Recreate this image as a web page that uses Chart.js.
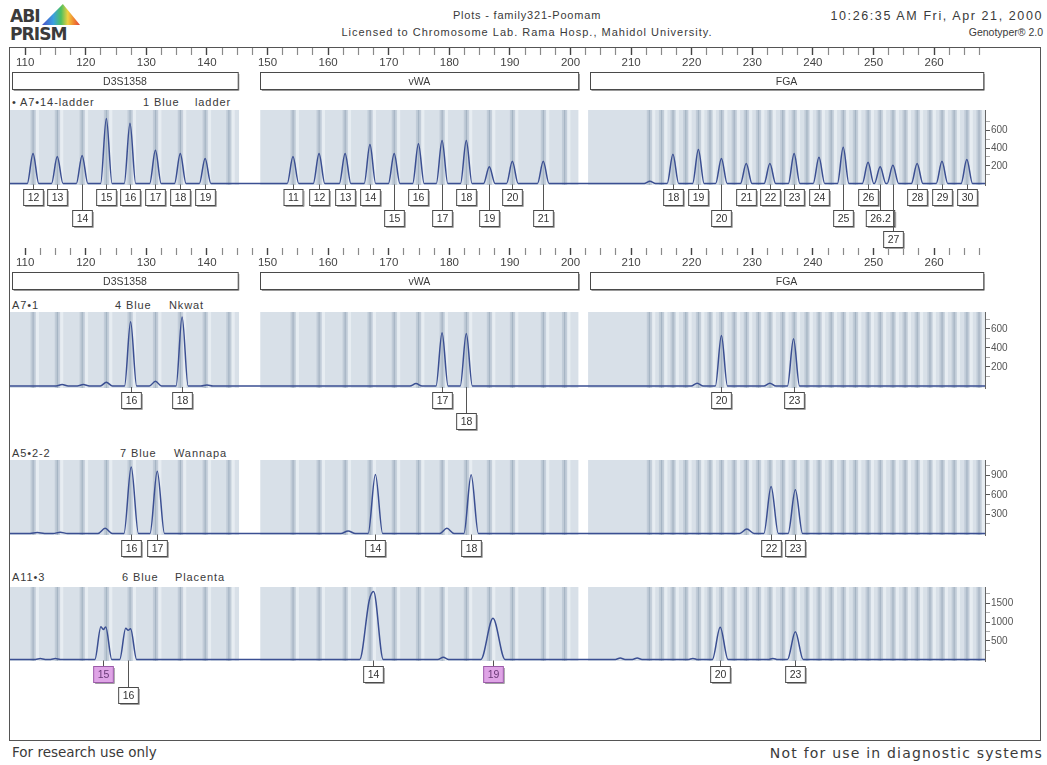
<!DOCTYPE html>
<html><head><meta charset="utf-8">
<script src="https://cdn.jsdelivr.net/npm/chart.js@4.4.0/dist/chart.umd.min.js"></script>
<style>
body{margin:0;background:#fff;width:1047px;height:765px;position:relative;overflow:hidden;font-family:"Liberation Sans",Arial,sans-serif;color:#3a3a3a}
.t{position:absolute;white-space:nowrap;line-height:1}
.pl{font-size:11px;letter-spacing:0.9px}
canvas{position:absolute}
#frame{position:absolute;left:9px;top:47px;width:1032px;height:694px;border:1.5px solid #555;box-sizing:border-box}
#logo1,#logo2{position:absolute;left:10px;font-family:"DejaVu Sans",sans-serif;font-weight:bold;font-size:18px;color:#3b3b3b;letter-spacing:-1px;transform-origin:0 0;transform:scaleX(0.95)}
#tri{position:absolute;left:42px;top:4px;width:38px;height:21px;clip-path:polygon(55% 0,100% 100%,0 100%);background:linear-gradient(90deg,#4a4fc8 0%,#3aa0e0 30%,#4cc060 50%,#f0d040 68%,#f08030 85%,#e04040 100%)}
</style></head><body>
<div id="frame"></div>
<div id="tri"></div>
<div id="logo1" style="top:5px">ABI</div>
<div id="logo2" style="top:23px">PRISM</div>
<div class="t" style="left:227px;width:600px;text-align:center;top:10px;font-size:11px;letter-spacing:0.8px">Plots - family321-Poomam</div>
<div class="t" style="left:127px;width:800px;text-align:center;top:27px;font-size:11px;letter-spacing:1px">Licensed to Chromosome Lab. Rama Hosp., Mahidol University.</div>
<div class="t" style="right:4px;text-align:right;top:10px;font-size:12.5px;letter-spacing:1.6px">10:26:35 AM Fri, Apr 21, 2000</div>
<div class="t" style="right:4px;text-align:right;top:27px;font-size:10.5px">Genotyper® 2.0</div>

<div class="t pl" style="left:12px;top:97px">• A7•14-ladder</div>
<div class="t pl" style="left:143px;top:97px">1 Blue</div>
<div class="t pl" style="left:195px;top:97px">ladder</div>

<div class="t pl" style="left:12px;top:300px">A7•1</div>
<div class="t pl" style="left:115px;top:300px">4 Blue</div>
<div class="t pl" style="left:169px;top:300px">Nkwat</div>

<div class="t pl" style="left:12px;top:448px">A5•2-2</div>
<div class="t pl" style="left:120px;top:448px">7 Blue</div>
<div class="t pl" style="left:174px;top:448px">Wannapa</div>

<div class="t pl" style="left:12px;top:572px">A11•3</div>
<div class="t pl" style="left:122px;top:572px">6 Blue</div>
<div class="t pl" style="left:175px;top:572px">Placenta</div>

<div class="t" style="left:12px;top:746px;font-size:13.5px;font-family:'DejaVu Sans',sans-serif">For research use only</div>
<div class="t" style="right:4px;top:746px;font-size:14px;letter-spacing:1.2px;font-family:'DejaVu Sans',sans-serif">Not for use in diagnostic systems</div>

<canvas id="r1" width="1030" height="60" style="left:10px;top:40px"></canvas>
<canvas id="r2" width="1030" height="60" style="left:10px;top:240px"></canvas>
<canvas id="p1"></canvas>
<canvas id="p2"></canvas>
<canvas id="p3"></canvas>
<canvas id="p4"></canvas>

<script>
// ================= DATA =================
const rulerMajor = [110,120,130,140,150,160,170,180,190,200,210,220,230,240,250,260];
const rulerMinorStep = 2.5;
const xMin = 107.5, xMax = 268.4;

const lociNames = ['D3S1358','vWA','FGA'];
const lociStart = [107.85,148.8,203.2];
const lociEnd   = [145.1,201.3,268.1];
const regionStart = [107.5,148.8,202.9];
const regionEnd   = [145.3,201.3,268.4];

const d3Bins  = [111.3,115.3,119.4,123.4,127.3,131.5,135.6,139.7,143.6];
const vwaBins = [154.2,158.5,162.8,166.9,170.9,174.9,178.8,182.8,186.6,190.4,195.5,199.0];
const fgaBins = [213.0,215.0,216.9,219.0,221.1,223.0,224.9,227.0,229.0,231.0,232.9,235.0,236.9,239.0,241.0,243.0,245.0,247.0,249.1,251.1,253.2,255.2,257.2,259.3,261.3,263.3,265.4,267.4];

// Panel 1: A7#14-ladder
const p1Pos = [111.3,115.3,119.4,123.4,127.3,131.5,135.6,139.7,
               154.2,158.5,162.8,166.9,170.9,174.9,178.8,182.8,186.6,190.4,195.5,
               213.1,216.9,221.1,224.9,229.0,232.9,236.9,241.0,245.0,249.1,251.1,253.2,257.2,261.3,265.4];
const p1Height = [340,305,317,735,680,375,340,283,
                  305,340,340,440,340,450,485,485,190,250,250,
                  25,330,385,283,226,226,340,295,410,240,190,205,226,250,270];
const p1Width = 0.95;
const p1Alleles = ['12','13','14','15','16','17','18','19',
                   '11','12','13','14','15','16','17','18','19','20','21',
                   '18','19','20','21','22','23','24','25','26','26.2','27','28','29','30'];
const p1AlleleBp = [111.3,115.3,119.4,123.4,127.3,131.5,135.6,139.7,
                    154.2,158.5,162.8,166.9,170.9,174.9,178.8,182.8,186.6,190.4,195.5,
                    216.9,221.1,224.9,229.0,232.9,236.9,241.0,245.0,249.1,251.1,253.2,257.2,261.3,265.4];
const p1AlleleRow = [0,0,1,0,0,0,0,0,
                     0,0,0,0,1,0,1,0,1,0,1,
                     0,0,1,0,0,0,0,1,0,1,2,0,0,0];
const p1YTicks = [100,200,300,400,500,600,700];
const p1YLabels = [200,400,600];

// Panel 2: A7#1 Nkwat
const p2Pos = [116.1,119.6,123.4,127.4,131.5,135.9,140.0,174.5,178.8,182.8,220.9,224.9,232.9,236.8];
const p2Height = [15,15,40,675,50,725,10,25,560,550,30,530,30,495];
const p2Width = 1.0;
const p2Alleles = ['16','18','17','18','20','23'];
const p2AlleleBp = [127.4,135.9,178.8,182.8,224.9,236.8];
const p2AlleleRow = [0,0,0,1,0,0];
const p2YTicks = [100,200,300,400,500,600,700];
const p2YLabels = [200,400,600];

// Panel 3: A5#2-2 Wannapa
const p3Pos = [112.0,115.8,123.2,127.5,131.8,163.3,167.8,179.6,183.6,229.1,233.1,237.1];
const p3Height = [15,20,80,1030,965,40,916,80,910,70,730,680];
const p3Width = 1.2;
const p3Alleles = ['16','17','14','18','22','23'];
const p3AlleleBp = [127.5,131.8,167.8,183.6,233.1,237.1];
const p3AlleleRow = [0,0,0,0,0,0];
const p3YTicks = [150,300,450,600,750,900,1050];
const p3YLabels = [300,600,900];

// Panel 4: A11#3 Placenta
const p4Pos = [112.5,115.0,122.5,122.9,123.3,126.6,127.0,127.4,166.8,167.5,179.0,187.2,208.2,211.0,220.2,224.7,233.4,237.1];
const p4Height = [25,25,877,800,870,834,780,820,1590,1813,60,1100,40,40,30,860,30,743];
const p4Width = [0.8,0.8,1.0,0.9,1.0,1.0,0.9,1.0,1.6,1.6,0.9,2.0,0.8,0.8,0.8,1.3,0.8,1.3];
const p4Alleles = ['15','16','14','19','20','23'];
const p4AlleleBp = [122.9,127.0,167.4,187.2,224.7,237.1];
const p4AlleleRow = [0,1,0,0,0,0];
const p4AlleleHighlight = [true,false,false,true,false,false];
const p4YTicks = [250,500,750,1000,1250,1500,1750];
const p4YLabels = [500,1000,1500];

// ================= RENDERING =================
const FONT = '"Liberation Sans", Arial, sans-serif';
const TRACE = '#3b4f92';

function buildTrace(pos, height, width){
  const w = i => Array.isArray(width) ? width[i] : width;
  const pts = [{x:xMin,y:0}];
  const n = pos.length;
  for(let i=0;i<n;i++){
    const l = pos[i]-w(i), r = pos[i]+w(i);
    if(i===0 || pos[i-1]+w(i-1) < l) pts.push({x:l,y:0});
    pts.push({x:pos[i],y:height[i]});
    if(i===n-1 || r < pos[i+1]-w(i+1)) pts.push({x:r,y:0});
  }
  pts.push({x:xMax,y:0});
  return pts;
}

function rulerTicks(){
  const t=[];
  rulerMajor.forEach(m=>{ for(let k=0;k<4;k++) t.push(m+k*rulerMinorStep); });
  return t.filter(v=>v<=xMax);
}

const lociPlugin = {
  id:'loci',
  afterDraw(chart){
    const ctx=chart.ctx, xs=chart.scales.x;
    ctx.save();
    ctx.font = '10.5px '+FONT;
    ctx.textAlign='center'; ctx.textBaseline='middle';
    for(let i=0;i<lociNames.length;i++){
      const a=xs.getPixelForValue(lociStart[i]), b=xs.getPixelForValue(lociEnd[i]);
      const top=32.5, h=17;
      ctx.strokeStyle='#9a9a9a'; ctx.lineWidth=1;
      ctx.beginPath(); ctx.moveTo(a+1.5,top+h+1); ctx.lineTo(b+1,top+h+1); ctx.lineTo(b+1,top+1.5); ctx.stroke();
      ctx.strokeStyle='#4a4a4a';
      ctx.strokeRect(Math.round(a)+0.5, top, b-a, h);
      ctx.fillStyle='#3a3a3a';
      ctx.fillText(lociNames[i], (a+b)/2, top+h/2+1);
    }
    ctx.restore();
  }
};

function makeRuler(id){
  return new Chart(document.getElementById(id), {
    type:'line',
    data:{datasets:[{data:[]}]},
    options:{
      animation:false, responsive:false, events:[],
      layout:{padding:{left:0,right:55,top:7,bottom:30}},
      plugins:{legend:{display:false},tooltip:{enabled:false}},
      scales:{
        y:{display:false},
        x:{type:'linear',position:'bottom',min:xMin,max:xMax,
           afterFit:s=>{s.height=22;},
           afterBuildTicks:s=>{s.ticks=rulerTicks().map(v=>({value:v}));},
           grid:{drawOnChartArea:false,drawTicks:true,tickLength:7,
                 tickColor:c=>(c.tick && c.tick.value%10===0)?'#444':'#8a8a8a',
                 tickWidth:c=>(c.tick && c.tick.value%10===0)?1.4:1.2},
           border:{display:false},
           ticks:{autoSkip:false,maxRotation:0,padding:1,color:'#444',
                  font:{size:11.5,family:FONT},
                  callback:v=>(v%10===0)?String(v):''}}
      }
    },
    plugins:[lociPlugin]
  });
}

function binBg(chart){
  const ctx=chart.ctx, xs=chart.scales.x, a=chart.chartArea;
  ctx.save();
  for(let i=0;i<regionStart.length;i++){
    const l=xs.getPixelForValue(regionStart[i]), r=xs.getPixelForValue(regionEnd[i]);
    ctx.fillStyle='#d8e0e8';
    ctx.fillRect(l,a.top,r-l,a.bottom-a.top);
  }
  const bins=[d3Bins,vwaBins,fgaBins];
  bins.forEach((arr)=>{
    arr.forEach(bp=>{
      const x=xs.getPixelForValue(bp);
      ctx.fillStyle='rgba(160,176,192,0.4)';
      ctx.fillRect(x-2.5,a.top,5,a.bottom-a.top);
      ctx.fillStyle='rgba(140,158,176,0.5)';
      ctx.fillRect(x-0.5,a.top,1.2,a.bottom-a.top);
      ctx.fillStyle='rgba(238,242,246,0.7)';
      ctx.fillRect(x+3,a.top,3,a.bottom-a.top);
    });
  });
  ctx.restore();
}

function makePanel(id, cfg){
  const PADT=10, PADB=72;
  const cv=document.getElementById(id);
  cv.width=1030; cv.height=PADT+(cfg.bottom-cfg.top)+PADB;
  cv.style.left='10px'; cv.style.top=(cfg.top-PADT)+'px';
  const bgPlugin={id:'bg'+id, beforeDatasetsDraw(chart){binBg(chart);}};
  const lblPlugin={id:'lbl'+id, afterDraw(chart){
    const ctx=chart.ctx, xs=chart.scales.x, ys=chart.scales.y;
    const y0=ys.getPixelForValue(0);
    ctx.save();
    ctx.font='10.5px '+FONT; ctx.textAlign='center'; ctx.textBaseline='middle';
    cfg.names.forEach((nm,i)=>{
      const x=Math.round(xs.getPixelForValue(cfg.bp[i]))+0.5;
      const top=Math.round(y0+6+cfg.row[i]*21)+0.5;
      const w=Math.max(19, ctx.measureText(nm).width+8), h=16;
      ctx.strokeStyle='#555'; ctx.lineWidth=1;
      ctx.beginPath(); ctx.moveTo(x,y0+1); ctx.lineTo(x,top); ctx.stroke();
      const hl = cfg.hl && cfg.hl[i];
      ctx.fillStyle = hl ? '#dfa4e6' : '#ffffff';
      ctx.fillRect(x-w/2,top,w,h);
      ctx.strokeStyle='#a0a0a0';
      ctx.beginPath(); ctx.moveTo(x-w/2+1.5,top+h+1); ctx.lineTo(x+w/2+1,top+h+1); ctx.lineTo(x+w/2+1,top+1.5); ctx.stroke();
      ctx.strokeStyle= hl ? '#9a5aa8' : '#4a4a4a';
      ctx.strokeRect(x-w/2,top,w,h);
      ctx.fillStyle= hl ? '#6a3a78' : '#333';
      ctx.fillText(nm,x,top+h/2+1);
    });
    ctx.restore();
  }};
  return new Chart(cv,{
    type:'line',
    data:{datasets:[{data:buildTrace(cfg.pos,cfg.height,cfg.width),borderColor:TRACE,borderWidth:1.5,
                     pointRadius:0,cubicInterpolationMode:'monotone',fill:false}]},
    options:{
      animation:false, responsive:false, events:[],
      layout:{padding:{left:0,right:0,top:PADT,bottom:PADB}},
      plugins:{legend:{display:false},tooltip:{enabled:false}},
      scales:{
        x:{type:'linear',min:xMin,max:xMax,display:false},
        y:{position:'right',min:cfg.yMin,max:cfg.yMax,
           afterFit:s=>{s.width=55;},
           afterBuildTicks:s=>{s.ticks=cfg.yTicks.map(v=>({value:v}));},
           grid:{drawOnChartArea:false,drawTicks:true,tickLength:5,
                 tickColor:c=>(c.tick && cfg.yLabels.includes(c.tick.value))?'#555':'#aaa'},
           border:{display:true,color:'#666',width:1},
           ticks:{autoSkip:false,padding:1,color:'#555',font:{size:10,family:FONT},
                  callback:v=>cfg.yLabels.includes(v)?String(v):''}}
      }
    },
    plugins:[bgPlugin,lblPlugin]
  });
}

makeRuler('r1');
makeRuler('r2');
makePanel('p1',{top:110,bottom:185,yMin:-17,yMax:830,pos:p1Pos,height:p1Height,width:p1Width,
  names:p1Alleles,bp:p1AlleleBp,row:p1AlleleRow,yTicks:p1YTicks,yLabels:p1YLabels});
makePanel('p2',{top:312,bottom:388,yMin:-21,yMax:777,pos:p2Pos,height:p2Height,width:p2Width,
  names:p2Alleles,bp:p2AlleleBp,row:p2AlleleRow,yTicks:p2YTicks,yLabels:p2YLabels});
makePanel('p3',{top:460,bottom:535,yMin:-23,yMax:1139,pos:p3Pos,height:p3Height,width:p3Width,
  names:p3Alleles,bp:p3AlleleBp,row:p3AlleleRow,yTicks:p3YTicks,yLabels:p3YLabels});
makePanel('p4',{top:587,bottom:661,yMin:-40,yMax:1936,pos:p4Pos,height:p4Height,width:p4Width,
  names:p4Alleles,bp:p4AlleleBp,row:p4AlleleRow,hl:p4AlleleHighlight,yTicks:p4YTicks,yLabels:p4YLabels});
</script>
</body></html>
